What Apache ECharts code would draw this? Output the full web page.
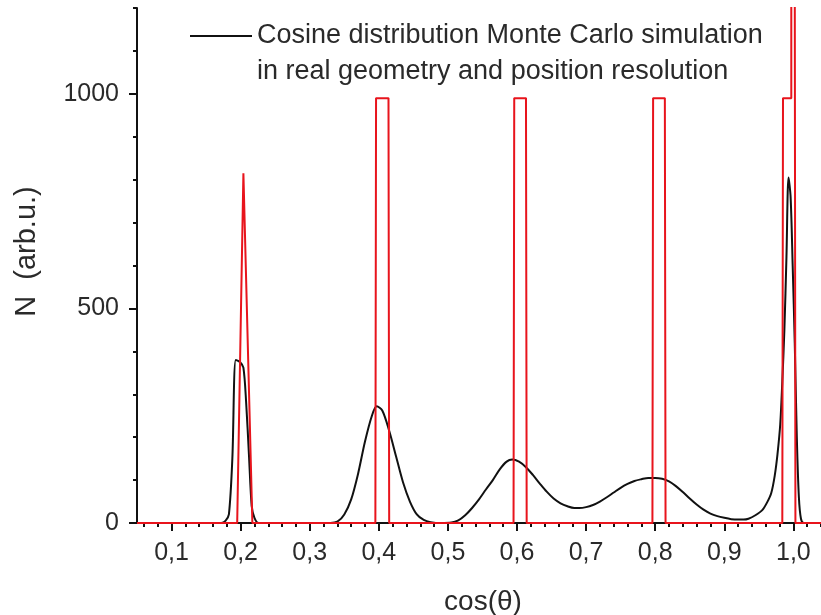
<!DOCTYPE html>
<html>
<head>
<meta charset="utf-8">
<script src="https://cdn.jsdelivr.net/npm/echarts@6/dist/echarts.min.js"></script>
<style>
html,body{margin:0;padding:0;background:#fff}
#c{width:821px;height:615px}
</style>
</head>
<body>
<div id="c"></div>
<script>
// ---- tick labels / ticks ----
const xMajorTicks = [0.1, 0.2, 0.3, 0.4, 0.5, 0.6, 0.7, 0.8, 0.9, 1.0];
const xMinorTicks = [0.06, 0.08, 0.12, 0.14, 0.16, 0.18, 0.22, 0.24, 0.26, 0.28,
  0.32, 0.34, 0.36, 0.38, 0.42, 0.44, 0.46, 0.48, 0.52, 0.54, 0.56, 0.58,
  0.62, 0.64, 0.66, 0.68, 0.72, 0.74, 0.76, 0.78, 0.82, 0.84, 0.86, 0.88,
  0.92, 0.94, 0.96, 0.98, 1.02, 1.04];
const yMajorTicks = [0, 500, 1000];
const yMinorTicks = [100, 200, 300, 400, 600, 700, 800, 900, 1100, 1200];

// ---- series names ----
const simName = 'Cosine distribution Monte Carlo simulation\nin real geometry and position resolution';
const idealName = 'Ideal positions';

// ---- Monte Carlo simulation (black) ----
const simX = [0.05, 0.172, 0.178, 0.183, 0.188, 0.193, 0.199, 0.204, 0.208, 0.212, 0.216, 0.22, 0.226,
  0.33, 0.34, 0.35, 0.36, 0.37, 0.38, 0.39, 0.397, 0.405, 0.415, 0.425, 0.435, 0.445, 0.455, 0.465, 0.475, 0.49,
  0.505, 0.515, 0.525, 0.535, 0.545, 0.555, 0.565, 0.575, 0.585, 0.593, 0.603, 0.613, 0.623, 0.633, 0.643, 0.653,
  0.663, 0.673, 0.683, 0.69, 0.7, 0.71, 0.72, 0.73, 0.74, 0.75, 0.76, 0.77, 0.78, 0.79, 0.8, 0.81, 0.82, 0.83,
  0.84, 0.85, 0.86, 0.87, 0.88, 0.89, 0.9, 0.91, 0.92, 0.928, 0.935, 0.945, 0.955, 0.962, 0.968, 0.973, 0.977,
  0.981, 0.984, 0.987, 0.99, 0.993, 0.996, 0.999, 1.002, 1.005, 1.008, 1.011, 1.015, 1.04];
const simY = [0, 0, 5, 20, 150, 380, 375, 362, 280, 160, 40, 12, 0,
  0, 3, 20, 55, 115, 190, 250, 272, 262, 215, 155, 95, 50, 20, 7, 2, 0,
  1, 6, 18, 35, 55, 78, 100, 125, 143, 148, 143, 130, 112, 92, 73, 57,
  46, 39, 35, 35, 37, 42, 50, 60, 71, 82, 91, 98, 102, 105, 105, 103, 97, 86,
  72, 57, 43, 31, 22, 16, 12, 9, 8, 8, 10, 18, 30, 48, 70, 110, 160,
  230, 330, 450, 620, 805, 760, 600, 420, 200, 60, 10, 0, 0];

// ---- ideal positions (red) ----
const idealX = [0.05, 0.195, 0.204, 0.217, 0.395, 0.396, 0.414, 0.415, 0.595, 0.596, 0.613, 0.614,
  0.796, 0.797, 0.814, 0.815, 0.984, 0.985, 0.997, 0.997, 1.002, 1.003, 1.04];
const idealY = [0, 0, 815, 0, 0, 990, 990, 0, 0, 990, 990, 0,
  0, 990, 990, 0, 0, 990, 990, 1300, 1300, 0, 0];

const zip = (xs, ys) => xs.map((x, i) => [x, ys[i]]);
const FONT = '"Liberation Sans", Arial, Helvetica, sans-serif';
const TXT = '#2a2a2a';
const fmtX = v => Number(v).toFixed(1).replace('.', ',');
const fmtY = v => String(Math.round(v));
// legend key: a short horizontal line drawn at the level of the first text line
const legendLine = 'path://M0,17H62V19H0Z M0,0H0.05V0.05H0Z M61.95,71.95H62V72H61.95Z';

const chart = echarts.init(document.getElementById('c'), null, {renderer: 'canvas'});
chart.setOption({
  animation: false,
  backgroundColor: '#ffffff',
  grid: {left: 137, right: 0, top: 8, bottom: 92, containLabel: false, outerBoundsMode: 'none'},
  legend: {
    data: [simName],
    left: 190, top: 18, padding: 0,
    icon: legendLine, itemWidth: 62, itemHeight: 72,
    itemStyle: {borderWidth: 0},
    selectedMode: false,
    textStyle: {fontFamily: FONT, fontSize: 27, lineHeight: 36, color: TXT}
  },
  xAxis: [{
    type: 'value', position: 'bottom', min: 0.05, max: 1.04,
    name: 'cos(θ)', nameLocation: 'middle', nameGap: 65,
    nameTextStyle: {fontFamily: FONT, fontSize: 28, color: TXT, padding: [0, 0, 0, 8]},
    axisLine: {show: true, lineStyle: {color: '#111', width: 2}},
    axisTick: {show: true, inside: false, length: 8, customValues: xMajorTicks, lineStyle: {color: '#111', width: 2}},
    axisLabel: {show: true, customValues: xMajorTicks, formatter: fmtX, margin: 18,
      fontFamily: FONT, fontSize: 25, color: TXT},
    splitLine: {show: false}
  }, {
    type: 'value', position: 'bottom', min: 0.05, max: 1.04,
    axisLine: {show: false},
    axisTick: {show: true, inside: false, length: 4, customValues: xMinorTicks, lineStyle: {color: '#111', width: 2}},
    axisLabel: {show: false},
    splitLine: {show: false}
  }],
  yAxis: [{
    type: 'value', position: 'left', min: 0, max: 1200,
    name: 'N  (arb.u.)', nameLocation: 'middle', nameGap: 96, nameRotate: 90,
    nameTextStyle: {fontFamily: FONT, fontSize: 29, color: TXT, padding: [0, 0, 0, 28]},
    axisLine: {show: true, lineStyle: {color: '#111', width: 2}},
    axisTick: {show: true, inside: false, length: 8, customValues: yMajorTicks, lineStyle: {color: '#111', width: 2}},
    axisLabel: {show: true, customValues: yMajorTicks, formatter: fmtY, margin: 18,
      fontFamily: FONT, fontSize: 25, color: TXT},
    splitLine: {show: false}
  }, {
    type: 'value', position: 'left', min: 0, max: 1200,
    axisLine: {show: false},
    axisTick: {show: true, inside: false, length: 4, customValues: yMinorTicks, lineStyle: {color: '#111', width: 2}},
    axisLabel: {show: false},
    splitLine: {show: false}
  }],
  series: [{
    name: simName, type: 'line', xAxisIndex: 0, yAxisIndex: 0,
    data: zip(simX, simY), showSymbol: false, symbol: 'none', smooth: 0.3,
    lineStyle: {color: '#111111', width: 2}, itemStyle: {color: '#111111'}, z: 3
  }, {
    name: idealName, type: 'line', xAxisIndex: 0, yAxisIndex: 0,
    data: zip(idealX, idealY), showSymbol: false, symbol: 'none', smooth: false, clip: true,
    lineStyle: {color: '#e8141c', width: 2}, itemStyle: {color: '#e8141c'}, z: 4
  }]
});
</script>
</body>
</html>
